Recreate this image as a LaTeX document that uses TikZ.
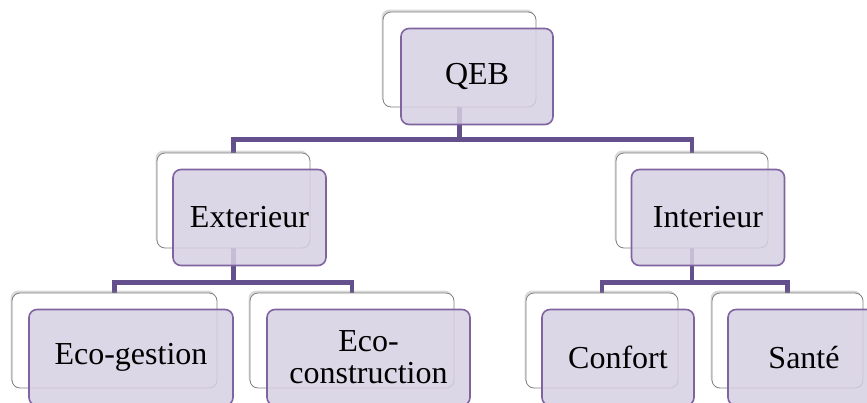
\documentclass[tikz,border=0pt]{standalone}
\usepackage{fontspec}
\setmainfont{Liberation Serif}
\usetikzlibrary{shadows,backgrounds}
\definecolor{qebline}{RGB}{100,80,140}
\definecolor{qebborder}{RGB}{128,100,162}
\definecolor{qebfill}{RGB}{214,208,226}

\begin{document}
\begin{tikzpicture}[x=1pt, y=-1pt]
    \tikzstyle{back}=[rectangle, rounded corners=8pt, draw=black!50, line width=0.8pt, fill=white, minimum height=95pt, drop shadow={shadow xshift=-1.5pt, shadow yshift=2.5pt, opacity=0.3}]
    \tikzstyle{front}=[rectangle, rounded corners=8pt, draw=qebborder, line width=1.6pt, fill=qebfill, fill opacity=0.85, text opacity=1, minimum height=96pt, align=center, inner sep=2pt, font=\fontsize{32}{32}\selectfont]
    \tikzstyle{connect}=[line width=4.5pt, draw=qebline]

      \clip (0,0) rectangle (867,402);

      % top level
      \node[back, minimum width=153pt] (qebback) at (459.5,59.5) {};
      \node[front, minimum width=152pt] (qeb) at (477,76.5) {QEB};
      % second level
      \node[back, minimum width=153pt] (extback) at (233.5,200.5) {};
      \node[front, minimum width=153pt] (ext) at (249.5,217.5) {Exterieur};
      \node[back, minimum width=152pt] (intback) at (692,200.5) {};
      \node[front, minimum width=153pt] (int) at (708,217.5) {Interieur};
      % third level
      \node[back, minimum width=205pt] (gestback) at (114.5,340.5) {};
      \node[front, minimum width=204pt] (gest) at (131,357.5) {Eco-gestion};
      \node[back, minimum width=204pt] (constback) at (352,340.5) {};
      \node[front, minimum width=203pt] (const) at (368.5,357.5) {Eco-\\construction};
      \node[back, minimum width=152pt] (confback) at (602,340.5) {};
      \node[front, minimum width=152pt] (conf) at (618,357.5) {Confort};
      \node[back, minimum width=151pt] (santeback) at (787.5,340.5) {};
      \node[front, minimum width=152pt] (sante) at (804,357.5) {Santé};

      \begin{scope}[on background layer]
        \draw[connect] (qebback.south) -- +(0,32) -| (extback.north);
        \draw[connect] (qebback.south) -- +(0,32) -| (intback.north);
        \draw[connect] (extback.south) -- +(0,34) -| (gestback.north);
        \draw[connect] (extback.south) -- +(0,34) -| (constback.north);
        \draw[connect] (intback.south) -- +(0,34) -| (confback.north);
        \draw[connect] (intback.south) -- +(0,34) -| (santeback.north);
      \end{scope}
    \end{tikzpicture}
\end{document}
